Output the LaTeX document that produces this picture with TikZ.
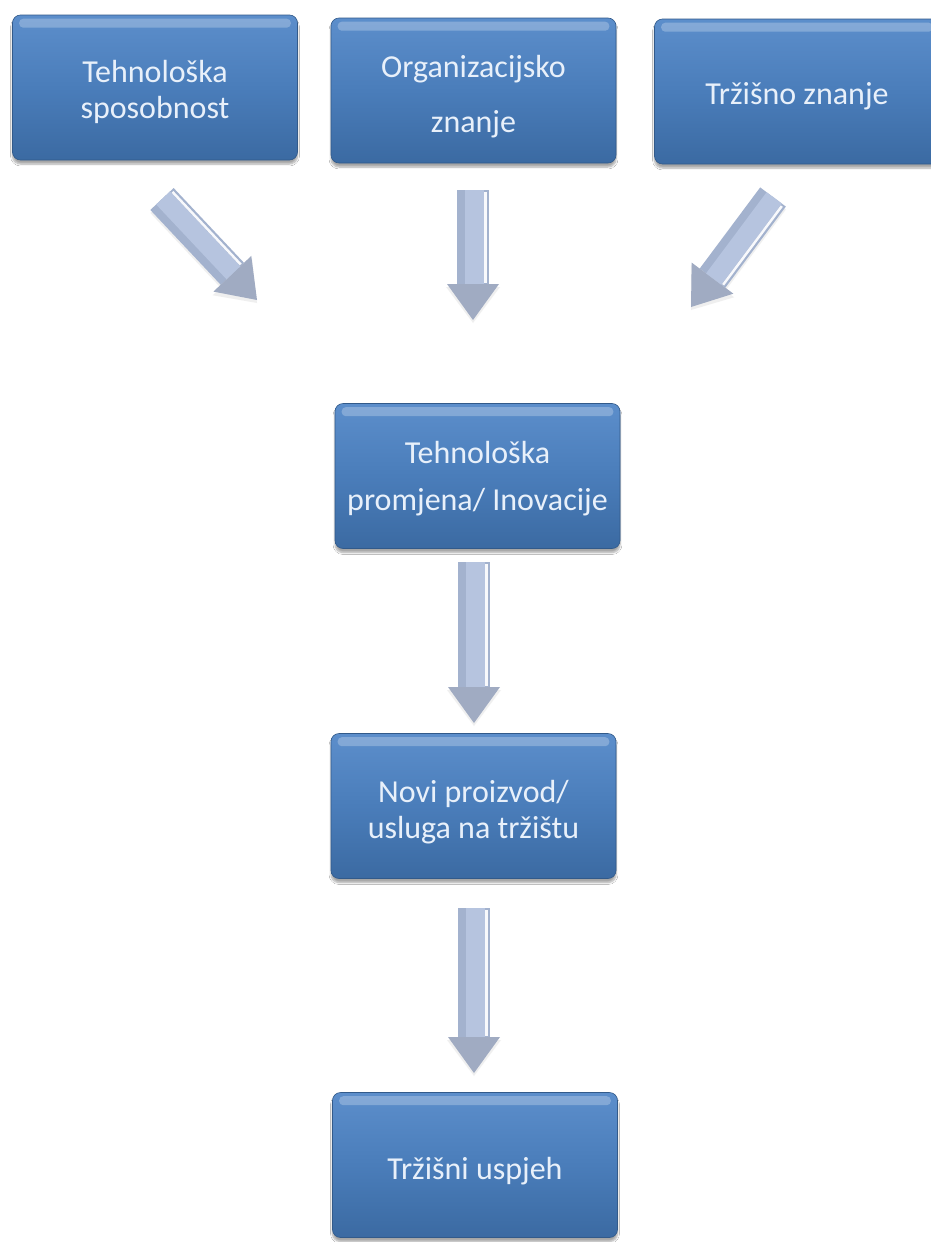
\documentclass[tikz,border=0pt]{standalone}
\usepackage{fontspec}
\setmainfont{Carlito}
\usetikzlibrary{calc,arrows.meta,shadows.blur}
\definecolor{boxtop}{HTML}{5C8ECB}
\definecolor{boxmid}{HTML}{4A7DBA}
\definecolor{boxbot}{HTML}{3B6AA2}
\definecolor{txt}{HTML}{E8F0FA}
\definecolor{arrbase}{HTML}{A3B2CE}
\definecolor{arrlight}{HTML}{B6C4DF}
\definecolor{arrhead}{HTML}{A0ABC2}
\tikzset{
  box/.style={rectangle, rounded corners=8pt, minimum width=285pt, minimum height=145pt,
    top color=boxtop, bottom color=boxbot, middle color=boxmid,
    draw=boxbot!85!black, line width=0.6pt, inner sep=0pt,
    blur shadow={shadow xshift=0pt, shadow yshift=-4pt, shadow blur steps=6, shadow opacity=35}},
  boxtext/.style={text=txt, align=center, font=\fontsize{32}{36}\selectfont, inner sep=0pt},
  gloss/.style={fill=white, opacity=.25, rounded corners=4pt},
  arrshadow/.style={draw=black!40, opacity=.15, line width=32pt,
    -{Triangle[length=36pt, width=54pt, line width=0pt]}},
  arrmain/.style={draw=arrbase, line width=32pt,
    -{Triangle[length=36pt, width=52pt, line width=0pt, fill=arrhead, color=arrhead]}},
  arrinner/.style={draw=arrlight, line width=19pt, shorten >=36pt},
  arrhl/.style={draw=white!90!arrlight, line width=2.5pt, shorten >=37pt, shorten <=2pt},
}
\newcommand{\blkarrow}[2]{%
  \draw[arrshadow] ([yshift=-3pt]#1) -- ([yshift=-3pt]#2);
  \draw[arrmain] (#1) -- (#2);
  \draw[arrinner] ($(#1)!1.5pt!90:(#2)$) -- ($(#2)!1.5pt!-90:(#1)$);
  \draw[arrhl] ($(#1)!12.5pt!90:(#2)$) -- ($(#2)!12.5pt!-90:(#1)$);
}
\begin{document}
\begin{tikzpicture}[x=1pt, y=-1pt]
  \fill[white] (0,0) rectangle (930,1242);
  \useasboundingbox (0,0) rectangle (930,1242);

  \node[box] (b1) at (155,87.5) {};
  \node[box] (b2) at (473.5,90.5) {};
  \node[box] (b3) at (797,91.5) {};
  \node[box] (b4) at (477.5,476) {};
  \node[box] (b5) at (473.5,806) {};
  \node[box] (b6) at (475,1165) {};

  \foreach \b in {b1,b2,b3,b4,b5,b6}
    \fill[gloss] ($(\b.north west)+(7,4)$) rectangle ($(\b.north east)+(-7,13)$);

  \node[boxtext] (l1) at ($(b1)+(0,4)$) {Tehnološka\\sposobnost};
  \node[boxtext] (l2) at ($(b2)+(0,6)$) {Organizacijsko\\[19pt]znanje};
  \node[boxtext] (l3) at ($(b3)+(0,5)$) {Tržišno znanje};
  \node[boxtext] (l4) at ($(b4)+(0,3)$) {Tehnološka\\[11pt]promjena/ Inovacije};
  \node[boxtext] (l5) at ($(b5)+(0,6)$) {Novi proizvod/\\usluga na tržištu};
  \node[boxtext] (l6) at ($(b6)+(0,6)$) {Tržišni uspjeh};

  \coordinate (t1) at (162,199);  \coordinate (h1) at (257,300);
  \coordinate (t2) at (473,190);  \coordinate (h2) at (473,320);
  \coordinate (t3) at (773,197);  \coordinate (h3) at (691,307);
  \coordinate (t4) at (474,562);  \coordinate (h4) at (474,723);
  \coordinate (t5) at (474,908);  \coordinate (h5) at (474,1073);

  \blkarrow{t1}{h1}
  \blkarrow{t2}{h2}
  \blkarrow{t3}{h3}
  \blkarrow{t4}{h4}
  \blkarrow{t5}{h5}
\end{tikzpicture}
\end{document}
